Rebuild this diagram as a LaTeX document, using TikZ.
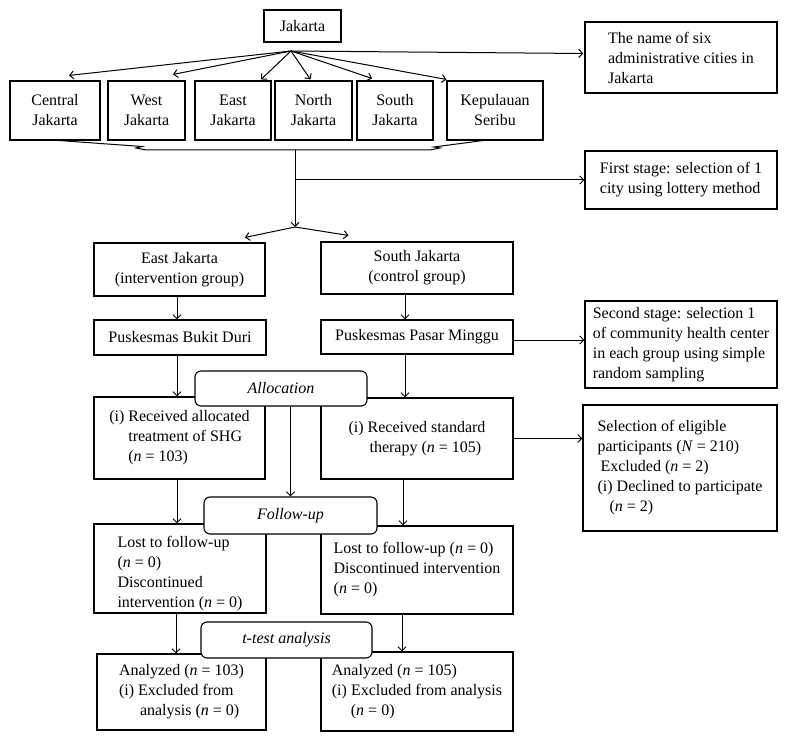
\documentclass[tikz,border=0pt]{standalone}
\usepackage{fontspec}
\setmainfont{Liberation Serif}
\usetikzlibrary{arrows.meta,calc}

\begin{document}
\begin{tikzpicture}[x=1pt,y=-1pt,
    >={Straight Barb[length=4pt,width=8pt]},
    font=\fontsize{16}{20}\selectfont,
    box/.style={draw, line width=1.1pt, align=left, inner sep=0pt},
    citybox/.style={box, align=center, minimum height=59pt},
    stagebox/.style={box, align=center, rounded corners=6pt, fill=white,
      font=\fontsize{16}{20}\selectfont\itshape},
    flow/.style={->, line width=1pt}]

  \useasboundingbox (0,0) rectangle (788,741);

  % Top level
  \node[box, minimum width=77pt, minimum height=32pt] (jak) at (302.5,26) {Jakarta};

  % Six cities (name/x/width/text)
  \foreach \city/\x/\w/\txt in {central/55/90/{Central\\Jakarta},
      west/146.5/77/{West\\Jakarta}, east/233/76/{East\\Jakarta},
      north/313.5/77/{North\\Jakarta}, south/395/76/{South\\Jakarta},
      kep/495/96/{Kepulauan\\Seribu}}
    \node[citybox, minimum width=\w pt] (\city) at (\x,110.5) {\txt};

  % Notes on the right
  \node[box, minimum width=192pt, minimum height=71pt] (names) at (681,57.5)
    {\fontsize{16}{17}\selectfont The name of six\\administrative cities in\\Jakarta};
  \node[box, minimum width=192pt, minimum height=58pt] (first) at (681,180)
    {First stage: selection of 1\\city using lottery method};
  \node[box, minimum width=192pt, minimum height=87pt] (second) at (681,344.5)
    {Second stage: selection 1\\of community health center\\in each group using simple\\random sampling};
  \node[box, minimum width=194pt, minimum height=126pt] (select) at (680,468)
    {Selection of eligible\\participants (\textit{N} = 210)\\\hspace*{3pt}Excluded (\textit{n} = 2)\\(i) Declined to participate\\\hspace*{12pt}(\textit{n} = 2)};

  % Two groups
  \node[box, align=center, minimum width=171pt, minimum height=53pt] (eastg) at (179.5,269.5)
    {East Jakarta\\(intervention group)};
  \node[box, align=center, minimum width=192pt, minimum height=52pt] (southg) at (417,268)
    {South Jakarta\\(control group)};
  \node[box, minimum width=172pt, minimum height=35pt] (bukit) at (180,337.5)
    {Puskesmas Bukit Duri};
  \node[box, minimum width=192pt, minimum height=34pt] (pasar) at (417,337)
    {Puskesmas Pasar Minggu};

  \node[box, minimum width=171pt, minimum height=82pt] (ltreat) at (179.5,438)
    {(i) Received allocated\\\hspace*{19pt}treatment of SHG\\\hspace*{19pt}(\textit{n} = 103)};
  \node[box, minimum width=192pt, minimum height=81pt] (rtreat) at (417,438.5)
    {(i) Received standard\\\hspace*{21pt}therapy (\textit{n} = 105)};

  \node[box, minimum width=172pt, minimum height=89pt] (llost) at (180,568.5)
    {\rule{0pt}{22pt}Lost to follow-up\\(\textit{n} = 0)\\Discontinued\\intervention (\textit{n} = 0)};
  \node[box, minimum width=192pt, minimum height=88pt] (rlost) at (417,570)
    {\fontsize{16}{18.5}\selectfont Lost to follow-up (\textit{n} = 0)\\Discontinued intervention\\(\textit{n} = 0)};

  \node[box, minimum width=169pt, minimum height=76pt] (lana) at (181.5,692)
    {Analyzed (\textit{n} = 103)\\(i) Excluded from\\\hspace*{21pt}analysis (\textit{n} = 0)};
  \node[box, minimum width=192pt, minimum height=79pt] (rana) at (417,691.5)
    {Analyzed (\textit{n} = 105)\\(i) Excluded from analysis\\\hspace*{19pt}(\textit{n} = 0)};

  % Fan from Jakarta
  \coordinate (fan) at (291,51);
  \foreach \city/\dx/\dy in {central/14/-5, west/26.5/-6, east/28/-1,
      north/-3/-1, south/-23/-2}
    \draw[flow] (fan) -- ($(\city.north)+(\dx,\dy)$);
  \draw[flow] (fan) -- ($(kep.north west)+(0,-1)$);
  \draw[flow] (fan) -- ($(names.west)+(-1,-4)$);

  % Brace under the cities
  \draw[line width=1pt] (52,140) -- (142,146.5) -- (136,148) -- (146,150)
    -- (430,150) -- (440,148) -- (434,147) -- (487,140);
  \coordinate (brace) at (295,150);
  \coordinate (split) at (295,227);
  \draw[flow] (brace) -- (split);
  \coordinate (pick) at (brace |- first.west);
  \draw[flow] (pick) -- (first.west);
  \draw[flow] (split) -- ($(eastg.north)+(65.5,-5)$);
  \draw[flow] (split) -- ($(southg.north west)+(28,-6)$);

  % Left column
  \draw[flow] ([xshift=-2.5pt]eastg.south) -- ([xshift=-3pt]bukit.north);
  \draw[flow] ([xshift=-3pt]bukit.south) -- ([xshift=-2.5pt]ltreat.north);
  \draw[flow] ([xshift=-2.5pt]ltreat.south) -- ([xshift=-3pt]llost.north);
  \draw[flow] ([xshift=-4pt]llost.south) -- ([xshift=-5.5pt]lana.north);

  % Right column
  \draw[flow] ([xshift=-12pt]southg.south) -- ([xshift=-12pt]pasar.north);
  \draw[flow] ([xshift=-12pt]pasar.south) -- ([xshift=-12pt]rtreat.north);
  \draw[flow] ([xshift=-14pt]rtreat.south) -- ([xshift=-14pt]rlost.north);
  \draw[flow] ([xshift=-15pt]rlost.south) -- ([xshift=-15pt]rana.north);
  \draw[flow] ([yshift=-3pt]pasar.east) -- ([yshift=-3pt]pasar.east -| second.west);
  \draw[flow] (rtreat.east) -- (rtreat.east -| select.west);

  % Stage labels
  \node[stagebox, minimum width=172pt, minimum height=35pt] (alloc) at (281,388.5) {Allocation};
  \node[stagebox, minimum width=173pt, minimum height=37pt] (follow) at (290.5,515.5) {Follow-up};
  \node[stagebox, minimum width=171pt, minimum height=36pt] (ttest) at (286.5,640) {t-test analysis};
  \draw[flow] (alloc.south -| follow.north) -- (follow.north);

\end{tikzpicture}
\end{document}
